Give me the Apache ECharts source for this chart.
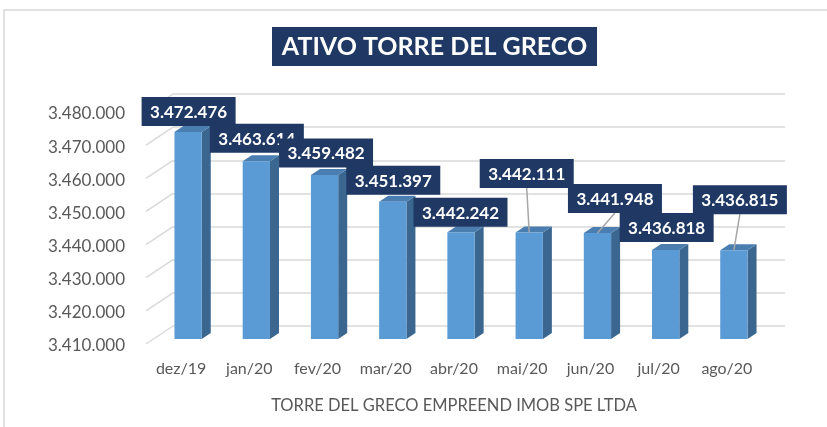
<!DOCTYPE html>
<html>
<head>
<meta charset="utf-8">
<script src="https://cdn.jsdelivr.net/npm/echarts@6/dist/echarts.min.js"></script>
<style>
  html, body { margin: 0; padding: 0; background: #fff; }
  #chart { width: 827px; height: 427px; }
</style>
</head>
<body>
<div id="chart"></div>
<script>
const categories = ["dez/19", "jan/20", "fev/20", "mar/20", "abr/20", "mai/20", "jun/20", "jul/20", "ago/20"];
const values = [3472476, 3463614, 3459482, 3451397, 3442242, 3442111, 3441948, 3436818, 3436815];
const yTicks = [3410000, 3420000, 3430000, 3440000, 3450000, 3460000, 3470000, 3480000];
const yMin = 3410000;
const yMax = 3480000;

// where each data label box sits, relative to the top of its bar (px)
const labelOffsets = [[0.5, -20.5], [0.5, -23], [1.5, -22], [0.5, -21.5], [-0.5, -20], [-2.5, -59], [17.5, -34.5], [1, -22.5], [6, -50.5]];
const leaderLines = [false, false, false, false, false, true, true, false, true];

const navy = "#1F3864";
const textGrey = "#595959";
const depth = { dx: 9, dy: -6 };

function fmt(v) {
  return String(v).replace(/\B(?=(\d{3})+(?!\d))/g, ".");
}

const chart = echarts.init(document.getElementById("chart"));

function renderBar(params, api) {
  const idx = api.value(0);
  const top = api.coord([idx, api.value(1)]);
  const bottom = api.coord([idx, yMin]);
  const w = api.size([1, 0])[0] * 0.4;
  const x0 = top[0] - w / 2;
  const x1 = top[0] + w / 2;
  const { dx, dy } = depth;
  return {
    type: "group",
    children: [
      {
        type: "polygon",
        shape: { points: [[x1, top[1]], [x1 + dx, top[1] + dy], [x1 + dx, bottom[1] + dy], [x1, bottom[1]]] },
        style: { fill: "#3A6690" },
      },
      {
        type: "polygon",
        shape: { points: [[x0, top[1]], [x1, top[1]], [x1 + dx, top[1] + dy], [x0 + dx, top[1] + dy]] },
        style: { fill: "#4A7DB0" },
      },
      {
        type: "rect",
        shape: { x: x0, y: top[1], width: w, height: bottom[1] - top[1] },
        style: { fill: "#5B9BD5" },
      },
    ],
  };
}

function renderLabel(params, api) {
  const i = params.dataIndex;
  const top = api.coord([api.value(0), api.value(1)]);
  const off = labelOffsets[i];
  const boxW = 94;
  const boxH = 29;
  const cx = top[0] + off[0];
  const cy = top[1] + off[1];
  const children = [];
  if (leaderLines[i]) {
    children.push({
      type: "line",
      shape: { x1: cx, y1: cy + boxH / 2, x2: top[0], y2: top[1] },
      style: { stroke: "#A6A6A6", lineWidth: 1.5 },
    });
  }
  children.push({
    type: "rect",
    shape: { x: cx - boxW / 2, y: cy - boxH / 2, width: boxW, height: boxH },
    style: { fill: navy },
  });
  children.push({
    type: "text",
    style: {
      text: fmt(api.value(1)),
      x: cx,
      y: cy + 1,
      align: "center",
      verticalAlign: "middle",
      fill: "#fff",
      fontFamily: "Lato",
      fontWeight: "bold",
      fontSize: 17,
    },
  });
  return { type: "group", children: children };
}

function renderWallEdge(params, api) {
  const p = api.coord([0, api.value(1)]);
  return {
    type: "line",
    shape: { x1: p[0] - 27, y1: p[1] + 18, x2: p[0], y2: p[1] },
    style: { stroke: "#D9D9D9", lineWidth: 1.5 },
  };
}

chart.setOption({
  animation: false,
  graphic: [
    {
      type: "rect",
      shape: { x: 4, y: 10, width: 900, height: 500 },
      style: { fill: "none", stroke: "#D9D9D9", lineWidth: 1.5 },
      z: -10,
    },
    {
      type: "rect",
      shape: { x: 272, y: 27, width: 325, height: 39 },
      style: { fill: navy },
    },
    {
      type: "text",
      x: 434.5,
      y: 47,
      style: {
        text: "ATIVO TORRE DEL GRECO",
        align: "center",
        verticalAlign: "middle",
        fill: "#fff",
        fontFamily: "Lato",
        fontWeight: "bold",
        fontSize: 25,
      },
    },
  ],
  grid: [
    // bar plane
    { left: 154, right: 59, top: 107, bottom: 88, outerBoundsMode: "none" },
    // front plane (axis labels)
    { left: 147, right: 66, top: 114, bottom: 81, outerBoundsMode: "none" },
    // back wall (gridlines)
    { left: 173, right: 42, top: 94, bottom: 101, outerBoundsMode: "none" },
  ],
  xAxis: [
    { gridIndex: 0, type: "category", data: categories, show: false },
    {
      gridIndex: 1,
      type: "category",
      data: categories,
      axisLine: { show: false },
      axisTick: { show: false },
      axisLabel: { color: textGrey, fontFamily: "Lato", fontSize: 16, margin: 15 },
      name: "TORRE DEL GRECO EMPREEND IMOB SPE LTDA",
      nameLocation: "middle",
      nameGap: 51,
      nameTextStyle: { color: textGrey, fontFamily: "Lato", fontSize: 16.5 },
    },
    { gridIndex: 2, type: "value", min: 0, max: 1, show: false },
  ],
  yAxis: [
    { gridIndex: 0, type: "value", min: yMin, max: yMax, interval: 10000, show: false },
    {
      gridIndex: 1,
      type: "value",
      min: yMin,
      max: yMax,
      interval: 10000,
      axisLine: { show: false },
      axisTick: { show: false },
      splitLine: { show: false },
      axisLabel: { color: textGrey, fontFamily: "Lato", fontSize: 17, margin: 22, formatter: fmt },
    },
    {
      gridIndex: 2,
      type: "value",
      min: yMin,
      max: yMax,
      interval: 10000,
      axisLine: { show: false },
      axisTick: { show: false },
      axisLabel: { show: false },
      splitLine: { show: true, lineStyle: { color: "#D9D9D9", width: 1.5 } },
    },
  ],
  series: [
    {
      type: "custom",
      xAxisIndex: 2,
      yAxisIndex: 2,
      renderItem: renderWallEdge,
      data: yTicks.map((t) => [0, t]),
      silent: true,
      z: 1,
    },
    {
      type: "custom",
      xAxisIndex: 0,
      yAxisIndex: 0,
      renderItem: renderBar,
      data: values.map((v, i) => [i, v]),
      z: 2,
    },
    {
      type: "custom",
      xAxisIndex: 0,
      yAxisIndex: 0,
      renderItem: renderLabel,
      data: values.map((v, i) => [i, v]),
      z: 3,
    },
  ],
});
</script>
</body>
</html>
